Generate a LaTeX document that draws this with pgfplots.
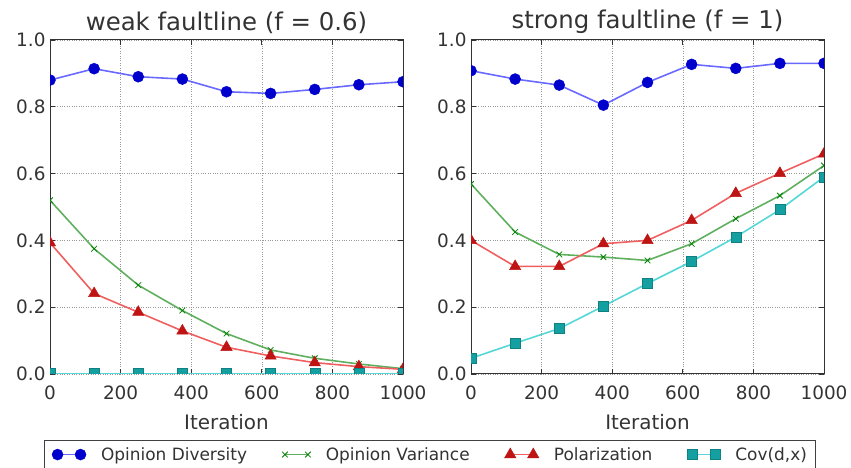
\documentclass[border=0pt]{standalone}
\usepackage{pgfplots}
\pgfplotsset{compat=1.18}
\pgfplotsset{clip marker paths=true}
\usepackage{fontspec}
\setmainfont{DejaVu Sans}
\definecolor{divline}{RGB}{105,105,255}
\definecolor{divmark}{RGB}{0,0,205}
\definecolor{varline}{RGB}{95,175,95}
\definecolor{varmark}{RGB}{0,128,0}
\definecolor{polline}{RGB}{240,95,95}
\definecolor{polmark}{RGB}{190,20,20}
\definecolor{covline}{RGB}{85,215,215}
\definecolor{covmark}{RGB}{20,160,160}
\pgfplotsset{
  myax/.style={
    scale only axis, width=353bp, height=334bp,
    xmin=0, xmax=1000, ymin=0, ymax=1,
    xtick={0,200,400,600,800,1000},
    ytick={0,0.2,0.4,0.6,0.8,1.0},
    /pgf/number format/assume math mode=true,
    /pgf/number format/1000 sep={},
    yticklabel style={/pgf/number format/fixed, /pgf/number format/fixed zerofill, /pgf/number format/precision=1, xshift=-1bp},
    xticklabel style={yshift=-8bp},
    tick label style={font=\fontsize{18.5}{18.5}\selectfont, text=black!80},
    xlabel={Iteration},
    xlabel style={font=\fontsize{20}{20}\selectfont, text=black!80, yshift=-8bp},
    title style={font=\fontsize{24.5}{24.5}\selectfont, text=black!80, yshift=-3bp},
    grid=major,
    major grid style={dotted, black!40, line width=0.6pt},
    tick align=inside, tick pos=both, major tick length=5bp,
    axis line style={black!80, line width=1pt},
    every tick/.style={black!80, line width=0.8pt},
    clip marker paths=true,
    legend image code/.code={\draw[##1] plot coordinates {(0bp,0bp) (23bp,0bp)};},
  },
  divst/.style={divline, line width=1.6pt, mark=*, mark size=5.5bp, mark options={draw=divmark, fill=divmark, line width=0.5pt}},
  varst/.style={varline, line width=1.6pt, mark=x, mark size=4bp, mark options={draw=varmark, line width=0.8pt}},
  polst/.style={polline, line width=1.6pt, mark=triangle*, mark size=6.5bp, mark options={draw=polmark, fill=polmark, line width=0.5pt}},
  covst/.style={covline, line width=1.6pt, mark=square*, mark size=5bp, mark options={draw=covmark!80!black, fill=covmark, line width=0.5pt}},
}
\begin{document}
\begin{tikzpicture}[x=1bp,y=1bp]
\begin{axis}[myax, at={(50bp,94bp)}, anchor=south west,
  title={weak faultline (f = 0.6)},
  legend columns=4,
  legend cell align=left,
  legend style={at={(1.075,-0.1976)}, anchor=north, draw=black!75, line width=0.8pt,
    font=\fontsize{17}{17}\selectfont, text=black!80,
    nodes={inner xsep=0bp},
    /tikz/every odd column/.append style={column sep=15bp},
    /tikz/every even column/.append style={column sep=35bp},
    inner xsep=8bp, inner ysep=5bp},
]
\addplot[divst] coordinates {(0,0.88) (125,0.914) (250,0.89) (375,0.883) (500,0.845) (625,0.84) (750,0.852) (875,0.866) (1000,0.875)};
\addlegendentry{Opinion Diversity}
\addplot[varst] coordinates {(0,0.52) (125,0.375) (250,0.266) (375,0.19) (500,0.121) (625,0.072) (750,0.047) (875,0.03) (1000,0.016)};
\addlegendentry{Opinion Variance}
\addplot[polst] coordinates {(0,0.393) (125,0.241) (250,0.185) (375,0.129) (500,0.08) (625,0.054) (750,0.034) (875,0.022) (1000,0.014)};
\addlegendentry{Polarization}
\addplot[covst] coordinates {(0,0.002) (125,0.002) (250,0.002) (375,0.002) (500,0.002) (625,0.002) (750,0.002) (875,0.002) (1000,0.002)};
\addlegendentry{Cov(d,x)}
\end{axis}
\begin{axis}[myax, at={(471bp,94bp)}, anchor=south west,
  title={strong faultline (f = 1)},
]
\addplot[divst] coordinates {(0,0.908) (125,0.883) (250,0.865) (375,0.805) (500,0.873) (625,0.927) (750,0.915) (875,0.93) (1000,0.93)};
\addplot[varst] coordinates {(0,0.569) (125,0.425) (250,0.358) (375,0.35) (500,0.34) (625,0.39) (750,0.465) (875,0.534) (1000,0.624)};
\addplot[polst] coordinates {(0,0.4) (125,0.322) (250,0.322) (375,0.39) (500,0.4) (625,0.46) (750,0.541) (875,0.601) (1000,0.659)};
\addplot[covst] coordinates {(0,0.047) (125,0.092) (250,0.136) (375,0.203) (500,0.271) (625,0.337) (750,0.41) (875,0.492) (1000,0.59)};
\end{axis}
\pgfresetboundingbox
\useasboundingbox (0,0) rectangle (851,468);
\end{tikzpicture}
\end{document}
